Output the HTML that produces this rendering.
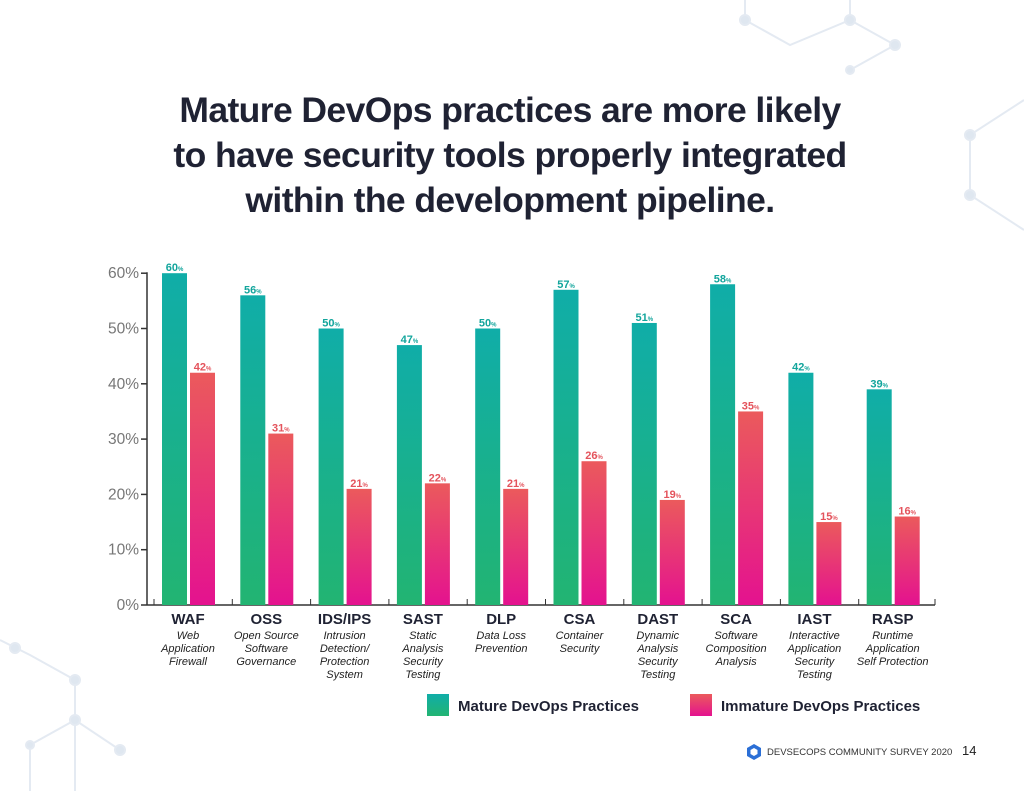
<!DOCTYPE html>
<html><head><meta charset="utf-8"><style>
body{margin:0;background:#fff;font-family:"Liberation Sans",sans-serif;}
#wrap{position:relative;width:1024px;height:791px;overflow:hidden;background:#fff}
h1{position:absolute;left:0;width:1024px;top:88px;margin:0;text-align:center;font-size:35.5px;line-height:45px;font-weight:bold;color:#1f2233;letter-spacing:-0.6px;transform:translateX(-2px)}
</style></head><body>
<div id="wrap">
<svg width="1024" height="791" style="position:absolute;left:0;top:0">
<g stroke="#e4eaf2" stroke-width="2" fill="#dfe7f0">
<polyline points="745,20 790,45 850,20 895,45 850,70" fill="none"/>
<line x1="850" y1="20" x2="850" y2="0"/><line x1="745" y1="20" x2="745" y2="0"/>
<polyline points="1024,100 970,135 970,195 1024,230" fill="none"/>
<polyline points="0,640 30,655 75,680 75,720 120,750" fill="none"/>
<polyline points="75,720 30,745 30,791" fill="none"/><polyline points="75,720 75,791" fill="none"/>
<circle cx="745" cy="20" r="5"/><circle cx="850" cy="20" r="5"/><circle cx="895" cy="45" r="5"/><circle cx="850" cy="70" r="4"/>
<circle cx="970" cy="135" r="5"/><circle cx="970" cy="195" r="5"/>
<circle cx="15" cy="648" r="5"/><circle cx="75" cy="680" r="5"/><circle cx="75" cy="720" r="5"/><circle cx="120" cy="750" r="5"/><circle cx="30" cy="745" r="4"/>
</g></svg>
<h1>Mature DevOps practices are more likely<br>to have security tools properly integrated<br>within the development pipeline.</h1>
<svg id="chart" width="1024" height="791" style="position:absolute;left:0;top:0">
<defs>
<linearGradient id="gT" x1="0" y1="0" x2="0" y2="1"><stop offset="0" stop-color="#10ada8"/><stop offset="1" stop-color="#22b472"/></linearGradient>
<linearGradient id="gR" x1="0" y1="0" x2="0" y2="1"><stop offset="0" stop-color="#eb5a5c"/><stop offset="1" stop-color="#e4128f"/></linearGradient>
</defs>
</svg>
<svg width="1024" height="791" style="position:absolute;left:0;top:0;pointer-events:none">
<polygon points="754,744 761,748 761,756 754,760 747,756 747,748" fill="#2b6fd6"/>
<polygon points="754,748 757.5,750 757.5,754 754,756 750.5,754 750.5,750" fill="#fff"/>
<text x="767" y="755" font-size="9.5" fill="#333" font-family="Liberation Sans, sans-serif">DEVSECOPS COMMUNITY SURVEY 2020</text>
<text x="962" y="755" font-size="13" fill="#222" font-family="Liberation Sans, sans-serif">14</text>
</svg>
</div>
<script>
const categories=["WAF","OSS","IDS/IPS","SAST","DLP","CSA","DAST","SCA","IAST","RASP"];
const descriptions=[["Web","Application","Firewall"],["Open Source","Software","Governance"],["Intrusion","Detection/","Protection","System"],["Static","Analysis","Security","Testing"],["Data Loss","Prevention"],["Container","Security"],["Dynamic","Analysis","Security","Testing"],["Software","Composition","Analysis"],["Interactive","Application","Security","Testing"],["Runtime","Application","Self Protection"]];
const mature=[60,56,50,47,50,57,51,58,42,39];
const immature=[42,31,21,22,21,26,19,35,15,16];
const yTicks=[0,10,20,30,40,50,60];
const seriesNames=["Mature DevOps Practices","Immature DevOps Practices"];

const svg=document.getElementById('chart');const NS='http://www.w3.org/2000/svg';
function mk(t,a,p){const e=document.createElementNS(NS,t);for(const k in a)e.setAttribute(k,a[k]);(p||svg).appendChild(e);return e;}
const y0=605,pxPer=5.53,x0=147,step=78.3,gx=162,bw=25;
const y=v=>y0-v*pxPer;
const gX=i=>gx+i*step;
const F="Liberation Sans, sans-serif";
let ax=mk('line',{x1:x0,y1:y(60)-1,x2:x0,y2:y0,stroke:'#333','stroke-width':1.5});


let bx=mk('line',{x1:x0,y1:y0,x2:935,y2:y0,stroke:'#333','stroke-width':1.5});


yTicks.forEach(t=>{
 mk('line',{x1:x0-6,y1:y(t),x2:x0,y2:y(t),stroke:'#333','stroke-width':1.5});
 const tx=mk('text',{x:x0-8,y:y(t)+5,'text-anchor':'end','font-size':15.5,fill:'#777','font-family':F});
 tx.textContent=t+'%';
 
 
});
categories.forEach((c,i)=>{
 const x=gX(i);
 mk('line',{x1:x-8,y1:y0,x2:x-8,y2:y0-6,stroke:'#333','stroke-width':1});
 const b1=mk('rect',{x:x,y:y(mature[i]),width:bw,height:mature[i]*pxPer,fill:'url(#gT)'});
 
 
 const b2=mk('rect',{x:x+28,y:y(immature[i]),width:bw,height:immature[i]*pxPer,fill:'url(#gR)'});
 
 
 [[mature[i],x,'#12a59c'],[immature[i],x+28,'#e4535c']].forEach(([v,bxp,col])=>{
  const t=mk('text',{x:bxp+bw/2,y:y(v)-2,'text-anchor':'middle','font-size':11,'font-weight':'bold',fill:col,'font-family':F});
  t.innerHTML=v+'<tspan font-size="6">%</tspan>';
  
  
 });
 const cl=mk('text',{x:x+26,y:624,'text-anchor':'middle','font-size':15,'font-weight':'bold',fill:'#1f2233','font-family':F});
 cl.textContent=c;
 
 
 descriptions[i].forEach((d,j)=>{
  const dl=mk('text',{x:x+26,y:639+j*13,'text-anchor':'middle','font-size':11,'font-style':'italic',fill:'#222','font-family':F});
  dl.textContent=d;
  
  
 });
});
mk('line',{x1:935,y1:y0,x2:935,y2:y0-6,stroke:'#333','stroke-width':1});
[[427,'url(#gT)',0],[690,'url(#gR)',1]].forEach(([lx,f,k])=>{
 const r=mk('rect',{x:lx,y:694,width:22,height:22,fill:f});
 
 
 const t=mk('text',{x:lx+31,y:711,'font-size':15,'font-weight':'bold',fill:'#1f2233','font-family':F});
 t.textContent=seriesNames[k];
 
 
});
</script>
</body></html>
